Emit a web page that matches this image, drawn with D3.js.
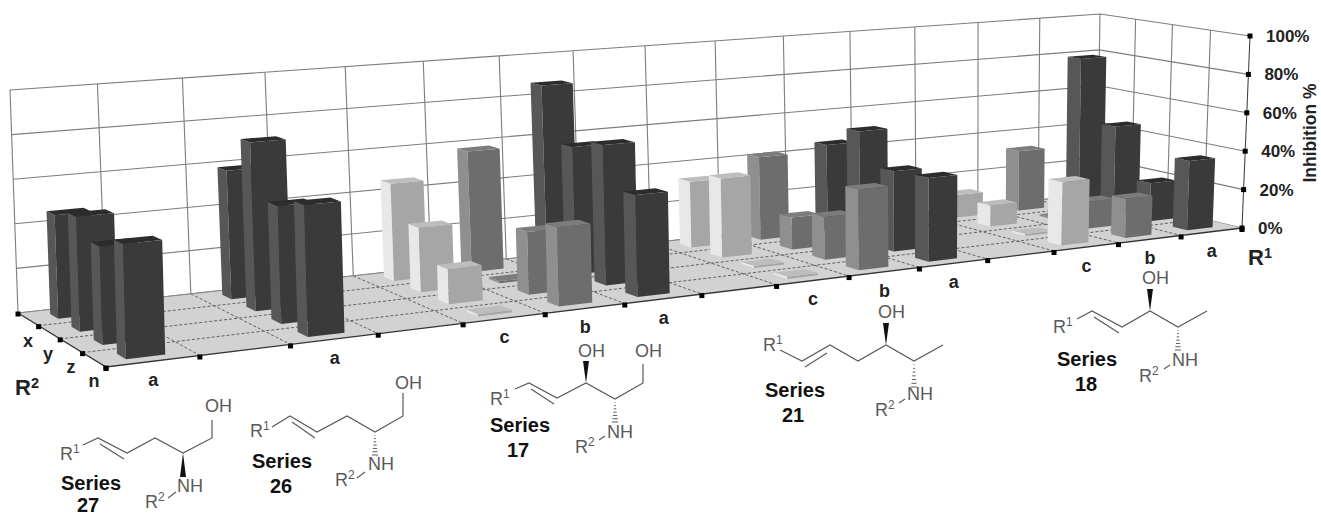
<!DOCTYPE html>
<html>
<head>
<meta charset="utf-8">
<title>Inhibition % by R1 and R2</title>
<script src="https://d3js.org/d3.v7.min.js"></script>
<style>
body { margin: 0; background: #fff; }
svg { display: block; font-family: "Liberation Sans", Arial, sans-serif; }
</style>
</head>
<body>
<svg width="1321" height="515"></svg>
<script>
// data. one entry per R1 column, values go x,y,z,n
var r1Labels = ["a","","a","","c","b","a","","c","b","a","","c","b","a"];
var r2Labels = ["x","y","z","n"];
var valueTicks = [0,20,40,60,80,100];

var col01 = [46,50,42,48];
var col02 = [];
var col03 = [59,76,52,57];
var col04 = [];
var col05 = [46,30,16,1];
var col06 = [58,1,29,36];
var col07 = [87,61,66,47];
var col08 = [];
var col09 = [33,39,1,1];
var col10 = [42,16,21,39];
var col11 = [45,56,40,41];
var col12 = [];
var col13 = [12,11,1,32];
var col14 = [32,1,14,20];
var col15 = [79,46,20,36];
var columns = [col01,col02,col03,col04,col05,col06,col07,col08,col09,col10,col11,col12,col13,col14,col15];

var svg = d3.select("svg");

// floor and ceiling corners of the 3d box: back left, back right, front right, front left
var floorQuad = [[18,313],[1097,193.5],[1242,228],[106,367]];
var topQuad = [[10,90],[1100,14],[1250,36],[100,124]];

function homography(q) {
	var dx1 = q[1][0]-q[2][0], dx2 = q[3][0]-q[2][0], sx = q[0][0]-q[1][0]+q[2][0]-q[3][0];
	var dy1 = q[1][1]-q[2][1], dy2 = q[3][1]-q[2][1], sy = q[0][1]-q[1][1]+q[2][1]-q[3][1];
	var det = dx1*dy2-dx2*dy1;
	var g = (sx*dy2-dx2*sy)/det, h = (dx1*sy-sx*dy1)/det;
	var a = q[1][0]-q[0][0]+g*q[1][0], b = q[3][0]-q[0][0]+h*q[3][0];
	var d = q[1][1]-q[0][1]+g*q[1][1], e = q[3][1]-q[0][1]+h*q[3][1];
	return function(u,v) {
		var z = g*u+h*v+1;
		return [(a*u+b*v+q[0][0])/z, (d*u+e*v+q[0][1])/z];
	};
}
var floorAt = homography(floorQuad), topAt = homography(topQuad);

// u along R1, v along R2 (back to front), w height 0-1
function project(u,v,w) {
	var p = floorAt(u,v), t = topAt(u,v);
	return [p[0]+(t[0]-p[0])*w, p[1]+(t[1]-p[1])*w];
}

var colIds = d3.range(r1Labels.length);
var xBand = d3.scaleBand().domain(colIds).range([0,1]).paddingInner(0.58).paddingOuter(0.29);
var zBand = d3.scaleBand().domain(r2Labels).range([0,1]).paddingInner(0.62).paddingOuter(0.31);
var uEdge = d3.scaleLinear().domain([0,r1Labels.length]).range([0,1]);
var vEdge = d3.scaleLinear().domain([0,r2Labels.length]).range([0,1]);
var w = d3.scaleLinear().domain([0,100]).range([0,1]);

var lineGen = d3.line();
function poly(pts) { return lineGen(pts)+"Z"; }

var wallColor = "#7d7d7d";

// walls
svg.append("path").attr("d",poly([project(0,0,0),project(1,0,0),project(1,0,1),project(0,0,1)])).attr("fill","#fff");

valueTicks.forEach(function(t) {
	svg.append("path")
		.attr("d",lineGen([project(0,0,w(t)),project(1,0,w(t)),project(1,1,w(t))]))
		.attr("fill","none").attr("stroke",wallColor).attr("stroke-width",1.1);
});
d3.range(0,r1Labels.length+1).forEach(function(i) {
	svg.append("line")
		.attr("x1",project(uEdge(i),0,0)[0]).attr("y1",project(uEdge(i),0,0)[1])
		.attr("x2",project(uEdge(i),0,1)[0]).attr("y2",project(uEdge(i),0,1)[1])
		.attr("stroke",wallColor).attr("stroke-width",1.1);
});
d3.range(1,r2Labels.length+1).forEach(function(i) {
	svg.append("line")
		.attr("x1",project(1,vEdge(i),0)[0]).attr("y1",project(1,vEdge(i),0)[1])
		.attr("x2",project(1,vEdge(i),1)[0]).attr("y2",project(1,vEdge(i),1)[1])
		.attr("stroke",i==r2Labels.length ? "#444" : wallColor).attr("stroke-width",1.1);
});

// floor
svg.append("path").attr("d",poly([project(0,0,0),project(1,0,0),project(1,1,0),project(0,1,0)])).attr("fill","#d2d2d2");

d3.range(1,r2Labels.length).forEach(function(i) {
	var a = project(0,vEdge(i),0), b = project(1,vEdge(i),0);
	svg.append("line").attr("x1",a[0]).attr("y1",a[1]).attr("x2",b[0]).attr("y2",b[1])
		.attr("stroke","#555").attr("stroke-width",0.9).attr("stroke-dasharray","3 2");
});
d3.range(1,r1Labels.length).forEach(function(i) {
	var a = project(uEdge(i),0,0), b = project(uEdge(i),1,0);
	svg.append("line").attr("x1",a[0]).attr("y1",a[1]).attr("x2",b[0]).attr("y2",b[1])
		.attr("stroke","#555").attr("stroke-width",0.9).attr("stroke-dasharray","3 2");
});
svg.append("path").attr("d",lineGen([project(0,0,0),project(0,1,0),project(1,1,0)]))
	.attr("fill","none").attr("stroke","#333").attr("stroke-width",1.3);
svg.append("path").attr("d",lineGen([project(0,0,0),project(1,0,0)]))
	.attr("fill","none").attr("stroke","#888").attr("stroke-width",1);

// bars: colour follows the R1 label. back rows first, right to left in a row
var faceFront = d3.scaleOrdinal().domain(["a","b","c"]).range(["#3a3a3a","#6d6d6d","#a6a6a6"]);
var faceLeft = d3.scaleOrdinal().domain(["a","b","c"]).range(["#575757","#8f8f8f","#e8e8e8"]);
var faceTop = d3.scaleOrdinal().domain(["a","b","c"]).range(["#2c2c2c","#7c7c7c","#bdbdbd"]);

r2Labels.forEach(function(row,ri) {
	d3.range(r1Labels.length-1,-1,-1).forEach(function(c) {
		if (!columns[c].length) return;
		var h = w(columns[c][ri]), k = r1Labels[c];
		var u0 = xBand(c), u1 = u0+xBand.bandwidth();
		var v0 = zBand(row), v1 = v0+zBand.bandwidth();
		var g = svg.append("g").attr("class","bar");
		g.append("path").attr("d",poly([project(u0,v0,0),project(u0,v1,0),project(u0,v1,h),project(u0,v0,h)]))
			.attr("fill",faceLeft(k));
		g.append("path").attr("d",poly([project(u0,v1,0),project(u1,v1,0),project(u1,v1,h),project(u0,v1,h)]))
			.attr("fill",faceFront(k));
		g.append("path").attr("d",poly([project(u0,v0,h),project(u1,v0,h),project(u1,v1,h),project(u0,v1,h)]))
			.attr("fill",faceTop(k));
	});
});

// tick marks
function tickMark(p) {
	svg.append("rect").attr("x",p[0]-2.5).attr("y",p[1]-2.5).attr("width",5).attr("height",5).attr("fill","#000");
}
d3.range(0,r1Labels.length+1).forEach(function(i) {
	var p = project(uEdge(i),1,0);
	tickMark([p[0],p[1]+1.5]);
});
d3.range(0,r2Labels.length+1).forEach(function(i) {
	var p = project(0,vEdge(i),0);
	tickMark([p[0],p[1]+1]);
});
valueTicks.forEach(function(t) { tickMark(project(1,1,w(t))); });

// axis labels
function bold(x,y,str,size,anchor) {
	return svg.append("text").attr("x",x).attr("y",y).attr("font-size",size).attr("font-weight","bold")
		.attr("text-anchor",anchor||"middle").attr("fill","#222").text(str);
}
valueTicks.forEach(function(t) {
	var p = project(1,1,w(t));
	bold(p[0]+16,p[1]+6,t+"%",17,"start");
});
r1Labels.forEach(function(l,i) {
	var p = project(xBand(i)+xBand.bandwidth()/2,1,0);
	bold(p[0],p[1]+25,l,18);
});
var r2Pos = [[28,347],[48,360],[71,373],[94,387]];
r2Labels.forEach(function(l,i) { bold(r2Pos[i][0],r2Pos[i][1],l,18); });

var yTitle = bold(0,0,"Inhibition %",17.5);
yTitle.attr("transform","translate(1316,133) rotate(-90)");

function withSup(sel,base,sup) {
	sel.text(base);
	sel.append("tspan").attr("dy",-7).attr("font-size",sel.attr("font-size")*0.66).text(sup);
}
withSup(bold(1248,265,"",22,"start"),"R","1");
withSup(bold(15,395,"",22,"start"),"R","2");

// the structure drawings under the chart
var structColor = "#5a5a5a";
function struct(s) {
	var g = svg.append("g");
	g.append("path").attr("d",lineGen(s.chain)).attr("fill","none").attr("stroke",structColor).attr("stroke-width",1.2);
	g.append("path").attr("d",lineGen(s.dbl)).attr("fill","none").attr("stroke",structColor).attr("stroke-width",1.2);
	g.append("path").attr("d",lineGen(s.dash)).attr("fill","none").attr("stroke",structColor).attr("stroke-width",1.2);
	s.wedges.forEach(function(wd) {
		var a = wd[0], b = wd[1];
		g.append("path").attr("d",poly([a,[b[0]-3,b[1]],[b[0]+3,b[1]]])).attr("fill","#111");
	});
	s.hashes.forEach(function(wd) {
		var a = wd[0], b = wd[1];
		d3.range(1,8).forEach(function(i) {
			var f = i/7, y = a[1]+(b[1]-a[1])*f, hw = 3*f;
			g.append("line").attr("x1",a[0]-hw).attr("x2",a[0]+hw).attr("y1",y).attr("y2",y)
				.attr("stroke",structColor).attr("stroke-width",1);
		});
	});
	s.atoms.forEach(function(t) {
		var el = g.append("text").attr("x",t[0]).attr("y",t[1]).attr("font-size",18).attr("fill",structColor);
		if (t[3]) { el.text(t[2]); el.append("tspan").attr("dy",-7).attr("font-size",12).text(t[3]); }
		else el.text(t[2]);
	});
	bold(s.label[0],s.label[1],"Series",20).attr("fill","#111");
	bold(s.label[2],s.label[3],s.name,20).attr("fill","#111");
}

struct({name:"27", label:[91,490,88,512],
	chain:[[83,445],[98,438],[127,453],[155,438],[183,453],[212,438],[212,420]],
	dbl:[[100,444],[124,459]], dash:[[168,498],[176,492]],
	wedges:[[[183,453],[183,477]]], hashes:[],
	atoms:[[60,460,"R","1"],[205,412,"OH"],[177,492,"NH"],[145,508,"R","2"]]});
struct({name:"26", label:[282,468,281,493],
	chain:[[272,427],[290,416],[317,432],[347,416],[375,432],[403,416],[403,393]],
	dbl:[[292,422],[315,438]], dash:[[357,478],[365,472]],
	wedges:[], hashes:[[[375,432],[375,455]]],
	atoms:[[250,437,"R","1"],[395,389,"OH"],[368,470,"NH"],[335,486,"R","2"]]});
struct({name:"17", label:[520,432,518,457],
	chain:[[515,389],[529,383],[557,398],[586,383],[615,399],[643,383],[643,364]],
	dbl:[[531,389],[554,404]], dash:[[599,440],[605,436]],
	wedges:[[[586,383],[586,361]]], hashes:[[[615,399],[615,422]]],
	atoms:[[490,405,"R","1"],[578,357,"OH"],[635,357,"OH"],[607,438,"NH"],[575,453,"R","2"]]});
struct({name:"21", label:[795,397,793,422],
	chain:[[780,350],[802,361],[830,345],[858,361],[886,345],[914,361],[943,345]],
	dbl:[[805,367],[827,353]], dash:[[899,403],[905,399]],
	wedges:[[[886,345],[886,323]]], hashes:[[[914,361],[914,387]]],
	atoms:[[763,351,"R","1"],[878,318,"OH"],[907,400,"NH"],[875,416,"R","2"]]});
struct({name:"18", label:[1087,366,1086,391],
	chain:[[1077,319],[1092,311],[1122,327],[1150,311],[1178,327],[1207,311]],
	dbl:[[1094,317],[1119,333]], dash:[[1164,369],[1170,365]],
	wedges:[[[1150,311],[1150,289]]], hashes:[[[1178,327],[1178,350]]],
	atoms:[[1053,333,"R","1"],[1142,284,"OH"],[1172,366,"NH"],[1139,382,"R","2"]]});
</script>
</body>
</html>
